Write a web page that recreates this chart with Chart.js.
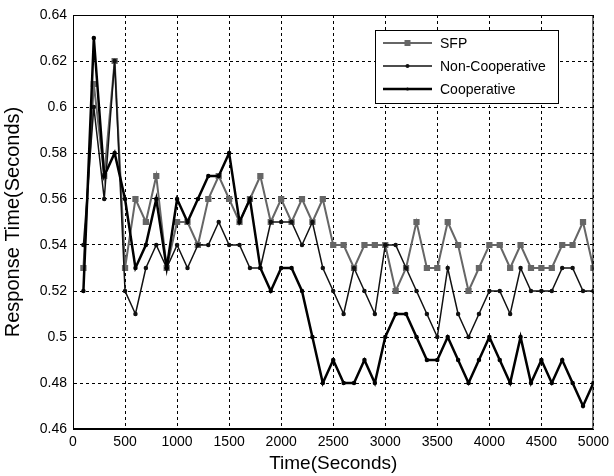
<!DOCTYPE html>
<html>
<head>
<meta charset="utf-8">
<script src="https://cdn.jsdelivr.net/npm/chart.js@4/dist/chart.umd.min.js"></script>
<style>
  html, body { margin: 0; padding: 0; background: #fff; }
  #c { display: block; }
</style>
</head>
<body>
<canvas id="c" width="614" height="476"></canvas>
<script>
const times = [100,200,300,400,500,600,700,800,900,1000,1100,1200,1300,1400,1500,1600,1700,1800,1900,2000,2100,2200,2300,2400,2500,2600,2700,2800,2900,3000,3100,3200,3300,3400,3500,3600,3700,3800,3900,4000,4100,4200,4300,4400,4500,4600,4700,4800,4900,5000];
const sfp = [0.53,0.61,0.57,0.62,0.53,0.56,0.55,0.57,0.53,0.55,0.55,0.54,0.56,0.57,0.56,0.55,0.56,0.57,0.55,0.56,0.55,0.56,0.55,0.56,0.54,0.54,0.53,0.54,0.54,0.54,0.52,0.53,0.55,0.53,0.53,0.55,0.54,0.52,0.53,0.54,0.54,0.53,0.54,0.53,0.53,0.53,0.54,0.54,0.55,0.53];
const nonCooperative = [0.54,0.60,0.56,0.62,0.52,0.51,0.53,0.54,0.53,0.54,0.53,0.54,0.54,0.55,0.54,0.54,0.53,0.53,0.55,0.55,0.55,0.54,0.55,0.53,0.52,0.51,0.53,0.52,0.51,0.54,0.54,0.53,0.52,0.51,0.50,0.53,0.51,0.50,0.51,0.52,0.52,0.51,0.53,0.52,0.52,0.52,0.53,0.53,0.52,0.52];
const cooperative = [0.52,0.63,0.57,0.58,0.56,0.53,0.54,0.56,0.53,0.56,0.55,0.56,0.57,0.57,0.58,0.55,0.56,0.53,0.52,0.53,0.53,0.52,0.50,0.48,0.49,0.48,0.48,0.49,0.48,0.50,0.51,0.51,0.50,0.49,0.49,0.50,0.49,0.48,0.49,0.50,0.49,0.48,0.50,0.48,0.49,0.48,0.49,0.48,0.47,0.48];
const seriesNames = ['SFP','Non-Cooperative','Cooperative'];
const xTicks = [0,500,1000,1500,2000,2500,3000,3500,4000,4500,5000];
const yTickLabels = ['0.46','0.48','0.5','0.52','0.54','0.56','0.58','0.6','0.62','0.64'];

const pts = arr => arr.map((v, i) => ({x: times[i], y: v}));
const FONT = 'Liberation Sans, Arial, sans-serif';

const frame = {
  id: 'frame',
  afterDraw(chart) {
    const {ctx, chartArea: a} = chart;
    ctx.save();
    ctx.strokeStyle = '#000';
    ctx.lineWidth = 1;
    ctx.setLineDash([]);
    ctx.strokeRect(a.left + 0.5, a.top + 0.5, a.right - a.left - 1, a.bottom - a.top - 1);
    // legend box
    const lx = 375, ly = 30, lw = 183, lh = 73;
    ctx.fillStyle = '#fff';
    ctx.fillRect(lx, ly, lw, lh);
    ctx.strokeRect(lx + 0.5, ly + 0.5, lw, lh);
    const rows = [43, 66, 89];
    chart.data.datasets.forEach((ds, i) => {
      const y = rows[i];
      ctx.strokeStyle = ds.borderColor;
      ctx.lineWidth = ds.borderWidth;
      ctx.beginPath(); ctx.moveTo(383, y); ctx.lineTo(432, y); ctx.stroke();
      ctx.fillStyle = ds.pointBackgroundColor;
      if (ds.pointStyle === 'rect') {
        ctx.fillRect(407.5 - 3, y - 3, 6, 6);
      } else {
        ctx.beginPath(); ctx.arc(407.5, y, ds.pointRadius + 0.5, 0, Math.PI * 2); ctx.fill();
      }
      ctx.fillStyle = '#000';
      ctx.font = '14px ' + FONT;
      ctx.textBaseline = 'middle';
      ctx.textAlign = 'left';
      ctx.fillText(ds.label, 440, y + 1);
    });
    ctx.restore();
  }
};

new Chart(document.getElementById('c'), {
  type: 'line',
  data: {
    datasets: [
      { label: seriesNames[0], data: pts(sfp), borderColor: '#666', backgroundColor: '#666',
        pointBackgroundColor: '#666', pointBorderColor: '#666', borderWidth: 2,
        pointStyle: 'rect', pointRadius: 3, tension: 0, order: 3 },
      { label: seriesNames[1], data: pts(nonCooperative), borderColor: '#111', backgroundColor: '#111',
        pointBackgroundColor: '#111', pointBorderColor: '#111', borderWidth: 1.5,
        pointStyle: 'circle', pointRadius: 1.5, tension: 0, order: 2 },
      { label: seriesNames[2], data: pts(cooperative), borderColor: '#000', backgroundColor: '#000',
        pointBackgroundColor: '#000', pointBorderColor: '#000', borderWidth: 2.5,
        pointStyle: 'circle', pointRadius: 1, tension: 0, order: 1 }
    ]
  },
  options: {
    responsive: false,
    animation: false,
    layout: { padding: { top: 15, right: 16, left: 0, bottom: 0 } },
    plugins: { legend: { display: false }, tooltip: { enabled: false } },
    scales: {
      x: {
        type: 'linear', min: 0, max: 5000,
        afterBuildTicks: s => { s.ticks = xTicks.map(v => ({value: v})); },
        afterFit: s => { s.height = 47; },
        ticks: { color: '#000', font: { family: FONT, size: 14 }, padding: 5, maxRotation: 0,
                 callback: v => String(v) },
        grid: { color: '#000', lineWidth: 1, drawTicks: false },
        border: { display: true, color: '#000', width: 1, dash: [3, 3] },
        title: { display: true, text: 'Time(Seconds)', color: '#000', font: { family: FONT, size: 19 }, padding: { top: 0, bottom: 1 } }
      },
      y: {
        type: 'linear', min: 0.46, max: 0.64,
        afterBuildTicks: s => { s.ticks = yTickLabels.map(l => ({value: parseFloat(l)})); },
        afterFit: s => { s.width = 73; },
        ticks: { color: '#000', font: { family: FONT, size: 14 }, padding: 6,
                 callback: v => yTickLabels.find(l => Math.abs(parseFloat(l) - v) < 1e-6) || '' },
        grid: { color: '#000', lineWidth: 1, drawTicks: false },
        border: { display: true, color: '#000', width: 1, dash: [3, 3] },
        title: { display: true, text: 'Response Time(Seconds)', color: '#000', font: { family: FONT, size: 20 }, padding: { top: 1, bottom: 4 } }
      }
    }
  },
  plugins: [frame]
});
</script>
</body>
</html>
